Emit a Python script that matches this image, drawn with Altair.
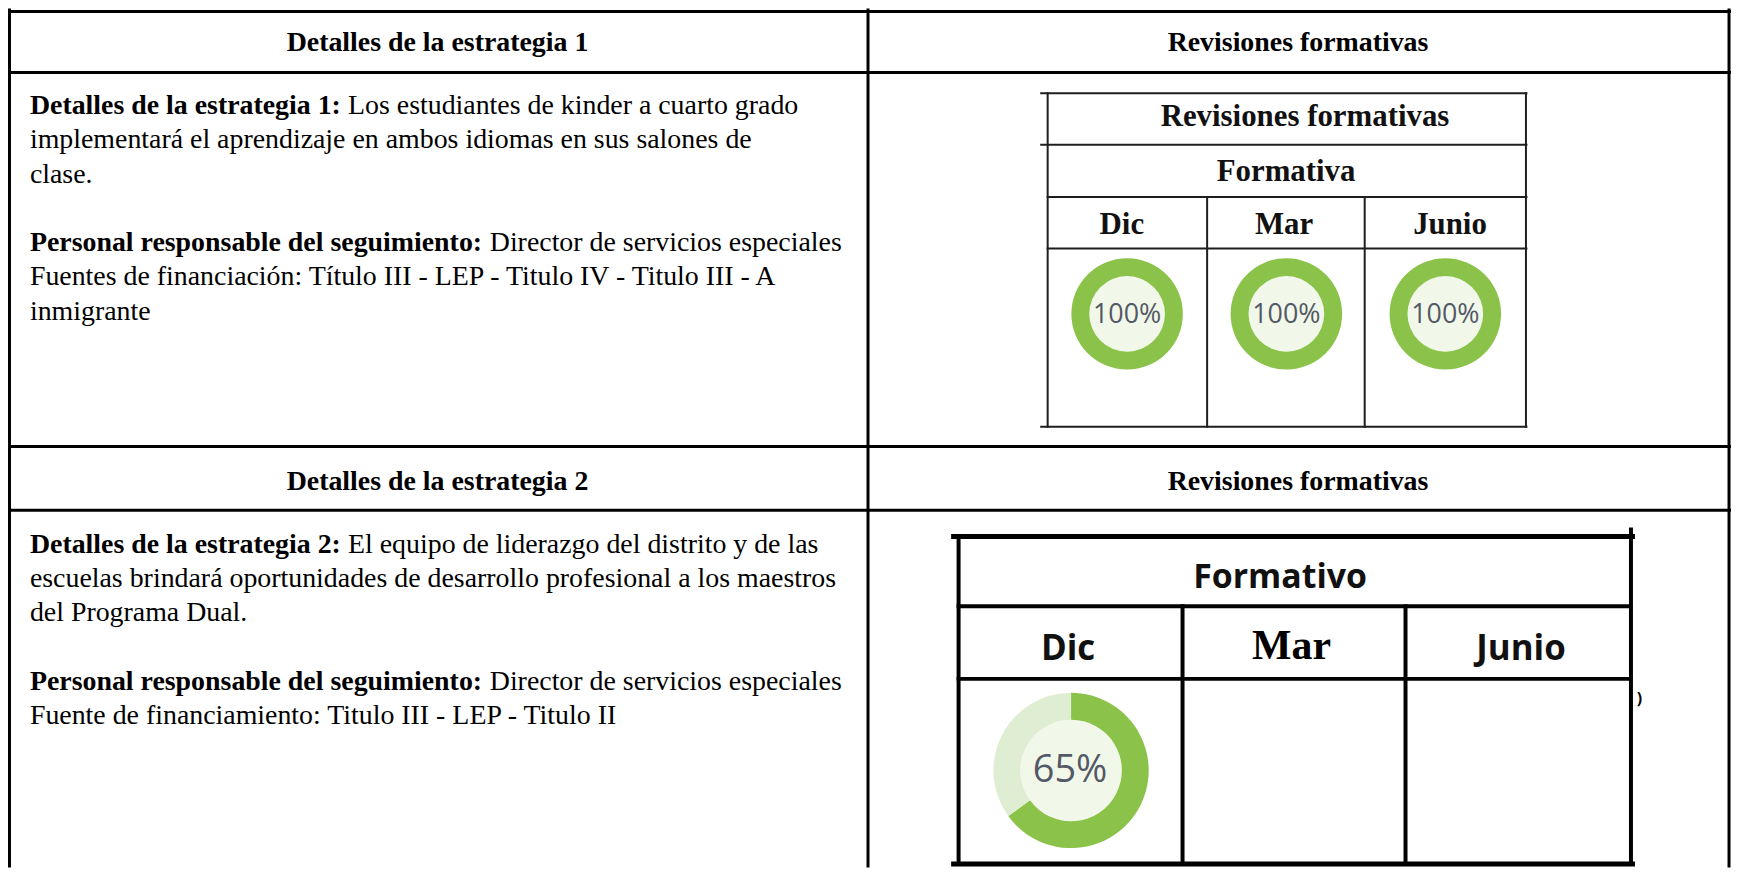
import altair as alt
import pandas as pd

# ------------------------------------------------------------------
# Content (text and values)
# ------------------------------------------------------------------
HEADERS_ROW1 = ["Detalles de la estrategia 1", "Revisiones formativas"]
HEADERS_ROW2 = ["Detalles de la estrategia 2", "Revisiones formativas"]

STRATEGY1_LINES = [
    ("Detalles de la estrategia 1:", "Los estudiantes de kinder a cuarto grado"),
    ("", "implementará el aprendizaje en ambos idiomas en sus salones de"),
    ("", "clase."),
    ("", ""),
    ("Personal responsable del seguimiento:", "Director de servicios especiales"),
    ("", "Fuentes de financiación: Título III - LEP - Titulo IV - Titulo III - A"),
    ("", "inmigrante"),
]
STRATEGY2_LINES = [
    ("Detalles de la estrategia 2:", "El equipo de liderazgo del distrito y de las"),
    ("", "escuelas brindará oportunidades de desarrollo profesional a los maestros"),
    ("", "del Programa Dual."),
    ("", ""),
    ("Personal responsable del seguimiento:", "Director de servicios especiales"),
    ("", "Fuente de financiamiento: Titulo III - LEP - Titulo II"),
]

MONTHS = ["Dic", "Mar", "Junio"]
REVIEW1_TITLE = "Revisiones formativas"
REVIEW1_SUB = "Formativa"
REVIEW1_PCT = [100, 100, 100]
REVIEW2_SUB = "Formativo"
REVIEW2_PCT = [65, None, None]

# ------------------------------------------------------------------
# Layout (page pixels) and styles
# ------------------------------------------------------------------
W, H = 1731, 860
X0, Y0 = 8, 8
XS = alt.Scale(domain=[X0, X0 + W], nice=False, zero=False)
YS = alt.Scale(domain=[Y0, Y0 + H], nice=False, zero=False, reverse=True)
THETA = alt.Scale(domain=[0, 100], range=[0, 6.283185307179586])

GREEN, GREEN_LIGHT, GREEN_CENTER = "#8bc34a", "#dfeed2", "#f1f8e9"
PCT_COLOR = "#535966"
SERIF, SANS = "Liberation Serif", "Open Sans"
BODY_FS = 28

# Times/Liberation Serif Bold advance widths (1/1000 em) for the bold runs
TB = {"D": 722, "e": 444, "t": 333, "a": 500, "l": 278, "s": 389, " ": 250,
      "d": 556, "g": 500, "i": 278, "r": 444, "1": 500, "2": 500, ":": 333,
      "P": 611, "o": 500, "n": 556, "p": 556, "b": 556, "u": 556, "m": 833}


def bold_width(s, fs):
    return sum(TB.get(ch, 500) for ch in s) * fs / 1000.0


def X(f="x"):
    return alt.X(f"{f}:Q", scale=XS, axis=None)


def Y(f="y"):
    return alt.Y(f"{f}:Q", scale=YS, axis=None)


# ------------------------------------------------------------------
# Table lines
# ------------------------------------------------------------------
segs = []


def seg(x, x2, y, y2, w, c):
    segs.append(dict(x=x, x2=x2, y=y, y2=y2, w=w, c=c))


# outer table
for yy in [9.5, 70.7, 446.5, 510.5]:
    seg(8, 1739, yy, yy, 3, "#000")
for xx in [9.5, 872, 1737]:
    seg(xx, xx, 8, 868, 3, "#000")

# inner table (row 1)
for yy in [91.7, 143.3, 426.7]:
    seg(1046, 1533.5, yy, yy, 2, "#1e1e1e")
for yy in [196, 247.7]:
    seg(1052.5, 1533.5, yy, yy, 2, "#1e1e1e")
seg(1052.5, 1052.5, 91.7, 426.7, 2, "#1e1e1e")
seg(1533, 1533, 91.7, 426.7, 2, "#1e1e1e")
for xx in [1212.7, 1371]:
    seg(xx, xx, 196, 426.7, 2, "#1e1e1e")

# inner table (row 2)
seg(958, 1640, 537, 537, 5, "#000")
seg(963, 1638, 607, 607, 4, "#000")
seg(963, 1638, 680, 680, 4, "#000")
seg(958, 1640, 866, 866, 5, "#000")
seg(963, 963, 537, 866, 4, "#000")
seg(1638.5, 1638.5, 530, 866, 4, "#000")
for xx in [1188, 1412]:
    seg(xx, xx, 607, 866, 4, "#000")

lines = alt.Chart(pd.DataFrame(segs)).mark_rule(strokeCap="square").encode(
    x=X(), x2="x2:Q", y=Y(), y2="y2:Q",
    strokeWidth=alt.StrokeWidth("w:Q", scale=None),
    color=alt.Color("c:N", scale=None),
)

# ------------------------------------------------------------------
# Texts
# ------------------------------------------------------------------
hdr = pd.DataFrame([
    dict(x=439.5, y=49.5, t=HEADERS_ROW1[0]),
    dict(x=1304, y=49.5, t=HEADERS_ROW1[1]),
    dict(x=439.5, y=490, t=HEADERS_ROW2[0]),
    dict(x=1304, y=490, t=HEADERS_ROW2[1]),
])
headers = alt.Chart(hdr).mark_text(
    font=SERIF, fontWeight="bold", fontSize=BODY_FS, align="center",
    baseline="alphabetic", color="#000"
).encode(x=X(), y=Y(), text="t:N")

bold_rows, reg_rows = [], []
for lines_, top in [(STRATEGY1_LINES, 112.7), (STRATEGY2_LINES, 553.2)]:
    for i, (b, r) in enumerate(lines_):
        yy = top + i * 34.4
        xx = 30
        if b:
            bold_rows.append(dict(x=xx, y=yy, t=b))
            xx = 30 + bold_width(b + " ", BODY_FS)
        if r:
            reg_rows.append(dict(x=xx, y=yy, t=r))

body_bold = alt.Chart(pd.DataFrame(bold_rows)).mark_text(
    font=SERIF, fontWeight="bold", fontSize=BODY_FS, align="left",
    baseline="alphabetic", color="#000"
).encode(x=X(), y=Y(), text="t:N")
body_reg = alt.Chart(pd.DataFrame(reg_rows)).mark_text(
    font=SERIF, fontSize=BODY_FS, align="left", baseline="alphabetic", color="#000"
).encode(x=X(), y=Y(), text="t:N")

# inner table 1 labels
t1 = pd.DataFrame(
    [dict(x=1311, y=124.3, t=REVIEW1_TITLE), dict(x=1292, y=180, t=REVIEW1_SUB)]
    + [dict(x=mx, y=232.7, t=m) for mx, m in zip([1127, 1290, 1456.7], MONTHS)]
)
inner1_text = alt.Chart(t1).mark_text(
    font=SERIF, fontWeight="bold", fontSize=31, align="center",
    baseline="alphabetic", color="#111"
).encode(x=X(), y=Y(), text="t:N")

# inner table 2 labels
t2_sans = pd.DataFrame([
    dict(x=1286, y=589, t=REVIEW2_SUB, fs=34),
    dict(x=1073, y=661, t=MONTHS[0], fs=35),
    dict(x=1528, y=661, t=MONTHS[2], fs=35),
])
inner2_sans = alt.Chart(t2_sans).mark_text(
    font=SANS, fontWeight="bold", align="center", baseline="alphabetic", color="#111"
).encode(x=X(), y=Y(), text="t:N", size=alt.Size("fs:Q", scale=None))

t2_serif = pd.DataFrame([dict(x=1297.5, y=659.7, t=MONTHS[1])])
inner2_serif = alt.Chart(t2_serif).mark_text(
    font=SERIF, fontWeight="bold", fontSize=42, align="center",
    baseline="alphabetic", color="#000"
).encode(x=X(), y=Y(), text="t:N")

artifact = alt.Chart(pd.DataFrame([dict(x=1647, y=705, t=")")])).mark_text(
    font=SANS, fontWeight="bold", fontSize=16, align="center",
    baseline="alphabetic", color="#000"
).encode(x=X(), y=Y(), text="t:N")

# ------------------------------------------------------------------
# Donuts
# ------------------------------------------------------------------
D1_X, D1_Y = [1132.3, 1292.3, 1452], 313.3
D2_X, D2_Y = [1076, 1296, 1524], 772


def ring_df(pcts, xs, yc):
    rows = []
    for p, xx in zip(pcts, xs):
        if p is None:
            continue
        rows.append(dict(x=xx, y=yc, t0=0, t1=p, c=GREEN))
        if p < 100:
            rows.append(dict(x=xx, y=yc, t0=p, t1=100, c=GREEN_LIGHT))
    return pd.DataFrame(rows)


def disk_df(pcts, xs, yc):
    return pd.DataFrame([dict(x=xx, y=yc, t0=0, t1=100, c=GREEN_CENTER)
                         for p, xx in zip(pcts, xs) if p is not None])


def pct_df(pcts, xs, yb, fs):
    return pd.DataFrame([dict(x=xx, y=yb, t=f"{p}%", fs=fs)
                         for p, xx in zip(pcts, xs) if p is not None])


def arc_layer(df, r_in, r_out):
    return alt.Chart(df).mark_arc(innerRadius=r_in, outerRadius=r_out).encode(
        x=X(), y=Y(),
        theta=alt.Theta("t0:Q", scale=THETA, stack=None),
        theta2="t1:Q",
        color=alt.Color("c:N", scale=None),
    )


ring1 = arc_layer(ring_df(REVIEW1_PCT, D1_X, D1_Y), 38, 56)
disk1 = arc_layer(disk_df(REVIEW1_PCT, D1_X, D1_Y), 0, 38)
ring2 = arc_layer(ring_df(REVIEW2_PCT, D2_X, D2_Y), 51, 78)
disk2 = arc_layer(disk_df(REVIEW2_PCT, D2_X, D2_Y), 0, 51)

pct_all = pd.concat([pct_df(REVIEW1_PCT, D1_X, 322.7, 27),
                     pct_df(REVIEW2_PCT, [1075, 1296, 1524], 784, 38)])
pct_text = alt.Chart(pct_all).mark_text(
    font=SANS, align="center", baseline="alphabetic", color=PCT_COLOR
).encode(x=X(), y=Y(), text="t:N", size=alt.Size("fs:Q", scale=None))

chart = alt.layer(
    disk1, ring1, disk2, ring2, pct_text,
    lines, headers, body_bold, body_reg,
    inner1_text, inner2_sans, inner2_serif, artifact,
).properties(
    width=W, height=H, padding=0,
    autosize=alt.AutoSizeParams(type="none"),
    background="white",
).configure_view(strokeWidth=0)

chart.save("out.html", embed_options={"renderer": "svg", "actions": False})
